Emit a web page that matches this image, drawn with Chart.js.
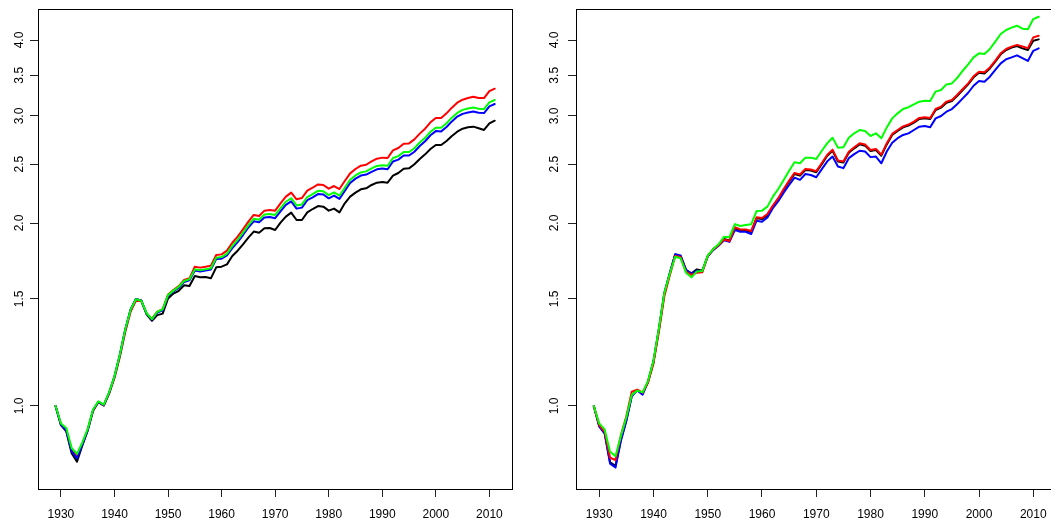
<!DOCTYPE html>
<html><head><meta charset="utf-8">
<script src="https://cdn.jsdelivr.net/npm/chart.js@4.4.1/dist/chart.umd.min.js"></script>
<style>
html,body{margin:0;padding:0;background:#fff;overflow:hidden;width:1051px;height:520px;}
#wrap{position:relative;width:1051px;height:520px;overflow:hidden;background:#fff;}
canvas{position:absolute;top:0;}
#c1{left:0;}
#c2{left:525px;}
</style></head>
<body><div id="wrap"><canvas id="c1" width="525" height="520"></canvas><canvas id="c2" width="540" height="520"></canvas></div>
<script>
const years = [1929,1930,1931,1932,1933,1934,1935,1936,1937,1938,1939,1940,1941,1942,1943,1944,1945,1946,1947,1948,1949,
1950,1951,1952,1953,1954,1955,1956,1957,1958,1959,1960,1961,1962,1963,1964,1965,1966,1967,1968,1969,
1970,1971,1972,1973,1974,1975,1976,1977,1978,1979,1980,1981,1982,1983,1984,1985,1986,1987,1988,1989,
1990,1991,1992,1993,1994,1995,1996,1997,1998,1999,2000,2001,2002,2003,2004,2005,2006,2007,2008,2009,2010,2011];

const xTicks = [1930,1940,1950,1960,1970,1980,1990,2000,2010];
const yTicks = [1.0,1.5,2.0,2.5,3.0,3.5,4.0];

// Left panel
const leftBlack = [1.000,0.930,0.908,0.836,0.810,0.861,0.911,0.982,1.015,1.002,1.050,1.117,1.212,1.334,1.440,1.500,1.492,1.415,1.381,1.411,1.419,
1.503,1.531,1.547,1.580,1.575,1.636,1.628,1.630,1.622,1.691,1.695,1.710,1.765,1.801,1.845,1.892,1.936,1.928,1.960,1.963,
1.948,2.003,2.049,2.080,2.023,2.023,2.082,2.109,2.133,2.128,2.096,2.112,2.082,2.155,2.210,2.244,2.272,2.281,2.310,2.330,
2.336,2.330,2.393,2.417,2.457,2.460,2.498,2.549,2.594,2.647,2.688,2.688,2.729,2.781,2.827,2.859,2.874,2.881,2.863,2.845,2.917,2.947];
const leftRed = [1.000,0.933,0.914,0.848,0.827,0.866,0.914,0.983,1.015,1.002,1.048,1.112,1.204,1.322,1.428,1.490,1.489,1.420,1.392,1.430,1.443,
1.525,1.551,1.575,1.612,1.622,1.695,1.689,1.695,1.702,1.772,1.776,1.801,1.856,1.899,1.953,2.010,2.062,2.054,2.096,2.101,
2.096,2.155,2.210,2.244,2.188,2.199,2.261,2.286,2.315,2.310,2.278,2.301,2.275,2.345,2.414,2.454,2.485,2.494,2.526,2.552,
2.562,2.558,2.634,2.657,2.701,2.704,2.746,2.806,2.859,2.929,2.977,2.977,3.030,3.096,3.155,3.191,3.211,3.227,3.211,3.211,3.297,3.327];
const leftGreen = [1.000,0.936,0.920,0.853,0.834,0.871,0.917,0.987,1.018,1.005,1.053,1.119,1.214,1.335,1.439,1.498,1.490,1.421,1.390,1.429,1.442,
1.522,1.548,1.571,1.606,1.616,1.678,1.672,1.678,1.685,1.754,1.758,1.781,1.834,1.876,1.928,1.984,2.033,2.025,2.065,2.069,
2.062,2.116,2.168,2.197,2.138,2.146,2.207,2.231,2.259,2.255,2.223,2.246,2.218,2.286,2.356,2.395,2.423,2.432,2.460,2.483,
2.490,2.484,2.558,2.577,2.617,2.617,2.655,2.713,2.762,2.826,2.870,2.870,2.918,2.981,3.035,3.070,3.086,3.098,3.083,3.079,3.159,3.187];
const leftBlue = [1.000,0.932,0.911,0.842,0.820,0.864,0.913,0.985,1.016,1.003,1.051,1.118,1.213,1.334,1.439,1.499,1.491,1.418,1.387,1.424,1.437,
1.517,1.543,1.565,1.600,1.610,1.670,1.664,1.670,1.677,1.745,1.747,1.769,1.819,1.861,1.911,1.966,2.013,2.005,2.042,2.046,
2.037,2.091,2.142,2.171,2.112,2.120,2.181,2.204,2.232,2.228,2.196,2.219,2.191,2.259,2.328,2.366,2.394,2.403,2.428,2.451,
2.458,2.452,2.525,2.543,2.583,2.583,2.620,2.678,2.726,2.789,2.833,2.830,2.877,2.939,2.993,3.024,3.040,3.052,3.037,3.033,3.112,3.139];

// Right panel
const rightBlack = [1.000,0.927,0.903,0.808,0.797,0.880,0.948,1.040,1.062,1.049,1.097,1.183,1.338,1.532,1.652,1.775,1.766,1.674,1.653,1.678,1.670,
1.765,1.810,1.842,1.882,1.872,1.960,1.944,1.944,1.932,2.036,2.030,2.061,2.128,2.188,2.266,2.339,2.408,2.393,2.445,2.439,
2.424,2.498,2.578,2.630,2.524,2.515,2.610,2.654,2.694,2.681,2.627,2.637,2.581,2.694,2.792,2.834,2.873,2.892,2.925,2.966,
2.973,2.966,3.068,3.096,3.155,3.175,3.239,3.310,3.381,3.473,3.534,3.525,3.592,3.685,3.789,3.852,3.886,3.911,3.876,3.852,3.990,4.010];
const rightRed = [1.000,0.930,0.907,0.822,0.815,0.895,0.962,1.056,1.064,1.052,1.093,1.175,1.325,1.515,1.640,1.765,1.758,1.662,1.643,1.657,1.660,
1.765,1.810,1.838,1.878,1.868,1.968,1.952,1.952,1.940,2.044,2.038,2.069,2.137,2.197,2.275,2.348,2.418,2.403,2.455,2.449,
2.434,2.508,2.588,2.641,2.534,2.525,2.620,2.665,2.705,2.692,2.638,2.648,2.591,2.705,2.803,2.845,2.884,2.904,2.937,2.978,
2.985,2.978,3.080,3.108,3.168,3.188,3.252,3.323,3.395,3.487,3.548,3.539,3.606,3.700,3.804,3.867,3.902,3.927,3.903,3.879,4.040,4.066];
const rightGreen = [1.000,0.936,0.915,0.841,0.827,0.893,0.958,1.043,1.060,1.053,1.100,1.187,1.342,1.535,1.650,1.760,1.750,1.657,1.628,1.665,1.668,
1.768,1.812,1.845,1.898,1.895,1.992,1.978,1.985,1.990,2.093,2.096,2.128,2.210,2.275,2.354,2.438,2.517,2.508,2.562,2.562,
2.549,2.627,2.704,2.763,2.661,2.664,2.763,2.809,2.845,2.835,2.781,2.809,2.758,2.873,2.973,3.030,3.080,3.101,3.135,3.167,
3.179,3.175,3.290,3.311,3.381,3.394,3.467,3.561,3.647,3.746,3.803,3.793,3.866,3.975,4.092,4.155,4.192,4.223,4.176,4.165,4.331,4.369];
const rightBlue = [1.000,0.925,0.901,0.804,0.792,0.877,0.945,1.037,1.061,1.044,1.096,1.183,1.338,1.532,1.653,1.777,1.768,1.676,1.649,1.670,1.665,
1.762,1.805,1.835,1.874,1.862,1.948,1.935,1.935,1.918,2.018,2.010,2.043,2.115,2.173,2.244,2.310,2.375,2.355,2.408,2.399,
2.379,2.450,2.524,2.573,2.477,2.462,2.557,2.596,2.630,2.622,2.567,2.573,2.508,2.622,2.711,2.758,2.792,2.809,2.845,2.881,
2.889,2.874,2.973,3.000,3.049,3.080,3.139,3.207,3.276,3.364,3.425,3.415,3.481,3.572,3.662,3.720,3.745,3.775,3.735,3.695,3.840,3.876];

const FONT = {family:'"Liberation Sans", Arial, sans-serif', size:12};

const boxPlugin = {
  id:'box',
  afterDraw(chart){
    const {ctx, chartArea:a} = chart;
    ctx.save();
    ctx.strokeStyle = '#000';
    ctx.lineWidth = 1;
    ctx.strokeRect(Math.round(a.left)+0.5, Math.round(a.top)+0.5, Math.round(a.right)-Math.round(a.left), Math.round(a.bottom)-Math.round(a.top));
    ctx.restore();
  }
};

function makeChart(id, series, g){
  const datasets = series.map(s => ({
    data: years.map((yr,i) => ({x: yr, y: s.values[i]})),
    borderColor: s.color,
    borderWidth: 2,
    pointRadius: 0,
    pointHoverRadius: 0,
    fill: false,
    tension: 0,
    borderJoinStyle: 'round',
    borderCapStyle: 'round'
  }));
  return new Chart(document.getElementById(id), {
    type: 'line',
    data: {datasets},
    options: {
      responsive: false,
      animation: false,
      devicePixelRatio: 1,
      events: [],
      layout: {padding: {left: 0, right: g.padRight, top: 9, bottom: 0}},
      plugins: {legend: {display: false}, tooltip: {enabled: false}},
      scales: {
        x: {
          type: 'linear',
          bounds: 'data',
          min: 1925.72, max: 2014.28,
          afterBuildTicks: s => { s.ticks = xTicks.map(v => ({value: v})); },
          afterFit: s => { s.height = 31; s.paddingLeft = 0; s.paddingRight = 0; },
          border: {display: false},
          grid: {drawOnChartArea: false, drawTicks: true, tickLength: 8, color: '#222', lineWidth: 1},
          ticks: {font: FONT, color: '#000', padding: 10, maxRotation: 0, minRotation: 0, autoSkip: false,
                  callback: v => String(v)}
        },
        y: {
          type: 'logarithmic',
          bounds: 'data',
          min: 0.7302, max: 4.499,
          afterBuildTicks: s => { s.ticks = yTicks.map(v => ({value: v})); },
          afterFit: s => { s.width = g.yWidth; s.paddingTop = 0; s.paddingBottom = 0; },
          border: {display: false},
          grid: {drawOnChartArea: false, drawTicks: true, tickLength: 8, color: '#222', lineWidth: 1},
          ticks: {font: FONT, color: '#000', padding: g.labelPad, minRotation: 90, maxRotation: 90,
                  crossAlign: 'center', autoSkip: false,
                  callback: v => Number(v).toFixed(1)}
        }
      }
    },
    plugins: [boxPlugin]
  });
}

// datasets listed top-most first (index 0 is drawn last)
makeChart('c1', [
  {values: leftGreen, color: '#00FF00'},
  {values: leftBlue, color: '#0000FF'},
  {values: leftRed, color: '#FF0000'},
  {values: leftBlack, color: '#000000'}
], {yWidth: 38, padRight: 12.7, labelPad: 2});

makeChart('c2', [
  {values: rightGreen, color: '#00FF00'},
  {values: rightRed, color: '#FF0000'},
  {values: rightBlue, color: '#0000FF'},
  {values: rightBlack, color: '#000000'}
], {yWidth: 51, padRight: 8.5, labelPad: 5});
</script>
</body></html>
